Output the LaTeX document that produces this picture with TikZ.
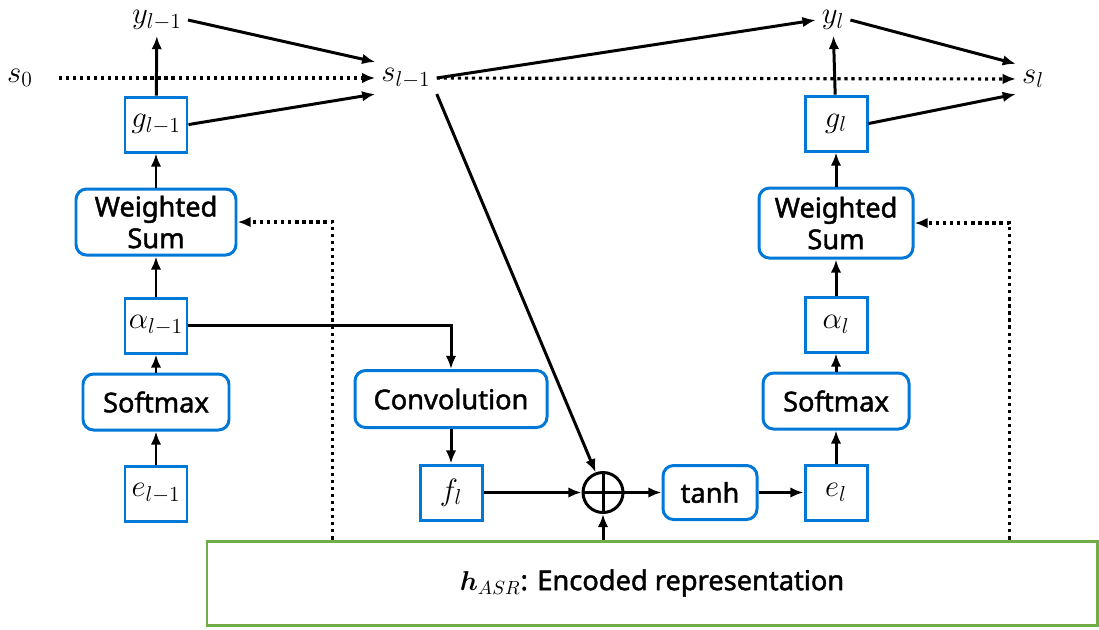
\RequirePackage{fix-cm}
\documentclass[tikz,border=0pt]{standalone}
\usepackage{amsmath}
\usepackage[no-math]{fontspec}
\setmainfont{Noto Sans}
\newfontfamily\lblfont{Noto Sans}[RawFeature={embolden=1.6}]
\usepackage{xcolor}
\usetikzlibrary{arrows.meta,positioning}
\definecolor{boxblue}{RGB}{0,120,215}
\definecolor{encgreen}{RGB}{112,173,71}

\begin{document}
\begin{tikzpicture}[font=\lblfont\fontsize{15.5}{18}\selectfont,
  mathlbl/.style={font=\fontsize{17.5}{20}\selectfont},
  vecbox/.style={mathlbl, draw=boxblue, line width=1.7pt, minimum width=1.24cm, minimum height=1.1cm, inner sep=0pt},
  opbox/.style={draw=boxblue, line width=1.7pt, rounded corners=6pt, align=center, inner sep=0pt, minimum height=1.12cm},
  arr/.style={-{Latex[length=7.5pt,width=6pt]}, line width=1.7pt},
  dotarr/.style={arr, line width=1.8pt, dash pattern=on 1.8pt off 2.2pt}]
  \useasboundingbox (0,0) rectangle (21.98,-12.58);

  % left column: step l-1
  \node[vecbox] (e1) at (3.12,-9.87) {$e_{l-1}$};
  \node[opbox, minimum width=2.92cm, above=0.66cm of e1] (sm1) {Softmax};
  \node[vecbox, above=0.36cm of sm1] (a1) {$\alpha_{l-1}$};
  \node[opbox, minimum width=3.2cm, minimum height=1.32cm, above=0.8cm of a1] (ws1) {Weighted\\Sum};
  \node[vecbox, above=0.68cm of ws1] (g1) {$g_{l-1}$};

  % right column: step l
  \node[vecbox] (e2) at (16.72,-9.85) {$e_l$};
  \node[opbox, minimum width=2.92cm, above=0.66cm of e2] (sm2) {Softmax};
  \node[vecbox, above=0.36cm of sm2] (a2) {$\alpha_l$};
  \node[opbox, minimum width=3.08cm, minimum height=1.4cm, above=0.72cm of a2] (ws2) {Weighted\\Sum};
  \node[vecbox, above=0.68cm of ws2] (g2) {$g_l$};

  % location-aware part
  \node[vecbox] (f) at (9.02,-9.85) {$f_l$};
  \node[opbox, minimum width=3.84cm, minimum height=1.14cm, above=0.69cm of f] (conv) {Convolution};
  \node[circle, draw, line width=1.7pt, minimum size=0.8cm, inner sep=0pt] (plus) at (12.06,-9.85) {};
  \node[opbox, minimum width=1.88cm, minimum height=1.08cm] (tanh) at (14.2,-9.85) {tanh};

  \node[draw=encgreen, line width=1.7pt, minimum width=17.8cm, minimum height=1.68cm]
    (hasr) at (13.04,-11.66) {$\boldsymbol{h}_{ASR}$: Encoded representation};

  % outputs and states
  \node[mathlbl] (y1) at (3.14,-0.4) {$y_{l-1}$};
  \node[mathlbl] (s0) at (0.4,-1.56) {$s_0$};
  \node[mathlbl] (s1) at (8.12,-1.56) {$s_{l-1}$};
  \node[mathlbl] (y2) at (16.66,-0.4) {$y_l$};
  \node[mathlbl] (s2) at (20.66,-1.58) {$s_l$};

  \draw[arr] (e1) -- (sm1);
  \draw[arr] (sm1) -- (a1);
  \draw[arr] (a1) -- (ws1);
  \draw[arr] (ws1) -- (g1);
  \draw[arr] (g1) -- (y1);
  \draw[arr] (e2) -- (sm2);
  \draw[arr] (sm2) -- (a2);
  \draw[arr] (a2) -- (ws2);
  \draw[arr] (ws2) -- (g2);
  \draw[arr] (g2) -- (y2);

  \draw[arr] (y1.east) -- (s1.north west);
  \draw[arr] (g1.east) -- (s1.south west);
  \draw[dotarr, shorten <=0.4cm] (s0) -- (s1);
  \draw[arr] (s1.east) -- (y2.west);
  \draw[dotarr] (s1) -- (s2);
  \draw[arr] (y2.east) -- (s2.north west);
  \draw[arr] (g2.east) -- (s2.south west);

  \draw[arr] (s1.south east) -- (plus.110);
  \draw[arr] (a1.east) -| (conv.north);
  \draw[arr] (conv) -- (f);
  \draw[arr] (f) -- (plus);
  \draw[arr] (plus) -- (tanh);
  \draw[arr] (tanh) -- (e2);
  \draw[arr] (hasr.north -| plus) -- (plus);
  \draw[line width=1.7pt] (plus.north) -- (plus.south) (plus.west) -- (plus.east);

  \draw[dotarr] (hasr.north west) ++(2.54,0) |- (ws1.east);
  \draw[dotarr] (hasr.north east) ++(-1.78,0) |- (ws2.east);
\end{tikzpicture}
\end{document}
